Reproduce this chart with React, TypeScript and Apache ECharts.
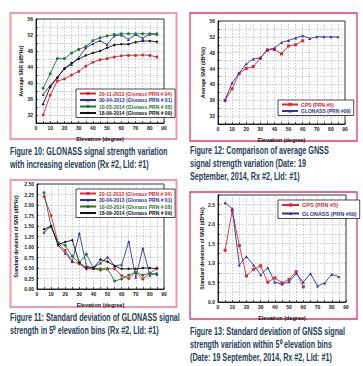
import React, { useEffect, useRef } from 'react';
import * as echarts from 'echarts';

// ---------- data ----------
const elevation = [5, 10, 15, 20, 25, 30, 35, 40, 45, 50, 55, 60, 65, 70, 75, 80, 85];

// Figure 10: average SNR per GLONASS pass
const fig10Names = [
  '20-11-2013 (Glonass PRN # 04)',
  '30-04-2013 (Glonass PRN # 01)',
  '10-03-2014 (Glonass PRN # 08)',
  '18-09-2014 (Glonass PRN # 09)',
];
const fig10Prn04 = [32.0, 37.0, 40.5, 41.0, 42.0, 42.9, 44.2, 45.2, 45.8, 46.1, 46.5, 46.8, 46.9, 46.9, 47.0, 46.9, 46.5];
const fig10Prn01 = [37.1, 39.4, 41.3, 43.7, 44.6, 46.3, 48.8, 49.8, 50.6, 49.6, 51.8, 52.0, 50.9, 52.1, 51.2, 52.2, 52.2];
const fig10Prn08 = [38.7, 42.3, 46.1, 46.1, 47.5, 48.4, 49.1, 50.6, 51.3, 51.8, 52.1, 52.3, 52.3, 52.3, 52.3, 52.3, 52.3];
const fig10Prn09 = [34.7, 39.0, 41.4, 43.6, 45.0, 46.0, 46.9, 47.5, 48.0, 48.8, 49.5, 49.7, 49.7, 50.2, 50.5, 50.5, 50.3];

// Figure 12: GPS vs GLONASS average SNR
const fig12Names = ['GPS (PRN #5)', 'GLONASS (PRN #09)'];
const fig12Gps = [36.0, 38.9, 42.8, 44.0, 44.5, 46.6, 48.7, 48.8, 47.7, 49.7, 50.0, 51.0];
const fig12Glonass = [36.0, 40.4, 42.8, 45.2, 46.4, 46.7, 48.7, 49.2, 50.6, 51.1, 51.7, 52.3, 51.6, 52.0, 52.0, 52.0, 52.0];

// Figure 11: standard deviation per GLONASS pass
const fig11Prn04 = [2.20, 1.75, 1.09, 0.92, 0.65, 0.60, 0.48, 0.48, 0.45, 0.48, 0.48, 0.32, 0.25, 0.40, 0.24, 0.37, 0.50];
const fig11Prn01 = [1.35, 1.50, 1.05, 0.85, 0.66, 1.33, 0.55, 0.50, 0.62, 0.76, 0.55, 0.58, 1.13, 0.28, 0.97, 0.33, 0.38];
const fig11Prn08 = [2.29, 1.48, 1.10, 1.04, 0.78, 0.62, 0.83, 0.50, 0.48, 0.48, 0.19, 0.24, 0.33, 0.40, 0.33, 0.38, 0.34];
const fig11Prn09 = [1.42, 1.50, 1.06, 1.12, 1.16, 0.63, 0.50, 0.50, 0.70, 0.65, 0.55, 0.48, 0.48, 0.48, 0.50, 0.50, 0.48];

// Figure 13: GPS vs GLONASS standard deviation
const fig13Gps = [1.33, 2.35, 1.45, 0.67, 0.84, 0.93, 0.51, 0.62, 0.49, 0.58, 0.78, 0.39];
const fig13Glonass = [2.55, 2.40, 0.95, 1.17, 0.95, 0.70, 0.88, 0.51, 0.46, 0.52, 0.73, 0.51, 0.73, 0.41, 0.49, 0.71, 0.65];

const captions = [
  { lines: ['Figure 10: GLONASS signal strength variation', 'with increasing elevation (Rx #2, LId: #1)'], x: 10, y: 152 },
  { lines: ['Figure 12: Comparison of average GNSS', 'signal strength variation (Date: 19', 'September, 2014, Rx #2, LId: #1)'], x: 190, y: 151 },
  { lines: ['Figure 11: Standard deviation of GLONASS signal', 'strength in 5\u2070 elevation bins (Rx #2, LId: #1)'], x: 10, y: 318 },
  { lines: ['Figure 13: Standard deviation of GNSS signal', 'strength variation within 5\u2070 elevation bins', '(Date: 19 September, 2014, Rx #2, LId: #1)'], x: 190, y: 332 },
];

// ---------- styles ----------
const RED = '#e3262e';
const BLUE = '#2d33a6';
const GREEN = '#1e7a2c';
const BLACK = '#111111';
const FONT = '"Liberation Sans", Arial, sans-serif';
const CAPTION = '#22405e';
const PINK = '#f19aae';
const CRIMSON = '#e53a64';

const pairs = (ys: number[]) => ys.map((y, i) => [elevation[i], y]);

const grids = [
  { left: 36, top: 19, width: 128, height: 104 },
  { left: 218, top: 21, width: 127, height: 103 },
  { left: 37, top: 184, width: 127, height: 105 },
  { left: 218, top: 195, width: 128, height: 107 },
];

function xAxisFor(gridIndex: number) {
  return {
    type: 'value',
    gridIndex,
    min: 0,
    max: 90,
    interval: 5,
    name: 'Elevation (degree)',
    nameLocation: 'middle',
    nameGap: 12.5,
    nameTextStyle: { fontSize: 5.5, fontWeight: 'bold', fontFamily: FONT, color: '#111' },
    axisLine: { show: true, lineStyle: { color: '#000', width: 0.8 } },
    axisTick: { show: true, inside: true, length: 2, lineStyle: { color: '#000', width: 0.6 } },
    axisLabel: {
      fontSize: 5,
      fontWeight: 'bold',
      fontFamily: FONT,
      color: '#222',
      margin: 2,
      formatter: (v: number) => (v % 10 === 0 ? String(v) : ''),
    },
    splitLine: { show: true, lineStyle: { color: '#8c93b0', width: 0.5, type: [1.5, 1.5] } },
  };
}

function yAxisFor(gridIndex: number, opts: any) {
  return {
    type: 'value',
    gridIndex,
    nameLocation: 'middle',
    nameRotate: 90,
    nameTextStyle: { fontSize: 5, fontWeight: 'bold', fontFamily: FONT, color: '#111' },
    axisLine: { show: true, lineStyle: { color: '#000', width: 0.8 } },
    axisTick: { show: true, inside: true, length: 2, lineStyle: { color: '#000', width: 0.6 } },
    splitLine: { show: true, lineStyle: { color: '#8c93b0', width: 0.5, type: [1.5, 1.5] } },
    ...opts,
    axisLabel: {
      fontSize: 5,
      fontWeight: 'bold',
      fontFamily: FONT,
      color: '#222',
      margin: 3,
      ...(opts.axisLabel || {}),
    },
  };
}

function line(name: string, ys: number[], idx: number, color: string, symbol: string) {
  return {
    type: 'line',
    name,
    xAxisIndex: idx,
    yAxisIndex: idx,
    data: pairs(ys),
    symbol,
    symbolSize: 3,
    showSymbol: true,
    lineStyle: { color, width: 0.9 },
    itemStyle: { color },
  };
}

function legendFor(names: string[], colors: string[], left: number, top: number, fontSize = 5, itemWidth = 16, itemGap = 1.5) {
  return {
    orient: 'vertical',
    left,
    top,
    itemWidth,
    itemHeight: 4,
    itemGap,
    padding: [2, 3, 2, 3],
    borderColor: '#000',
    borderWidth: 0.7,
    backgroundColor: '#fff',
    borderRadius: 0,
    selectedMode: false,
    textStyle: { fontSize, fontWeight: 'bold', fontFamily: FONT, padding: [0, 0, 0, -2] },
    data: names.map((n, i) => ({ name: n, textStyle: { color: colors[i] } })),
  };
}

export default function App() {
  const ref = useRef<HTMLDivElement>(null);

  useEffect(() => {
    if (!ref.current) return;
    const chart = echarts.init(ref.current, null, { renderer: 'svg' });

    const graphic: any[] = [
      { type: 'rect', shape: { x: 10.5, y: 13, width: 166, height: 126 }, style: { fill: 'none', stroke: PINK, lineWidth: 2 } },
      { type: 'rect', shape: { x: 190, y: 13, width: 167, height: 128 }, style: { fill: 'none', stroke: CRIMSON, lineWidth: 1.3 } },
      { type: 'rect', shape: { x: 10.5, y: 180, width: 166, height: 127 }, style: { fill: 'none', stroke: PINK, lineWidth: 2 } },
      { type: 'rect', shape: { x: 190, y: 192, width: 167, height: 127 }, style: { fill: 'none', stroke: CRIMSON, lineWidth: 1.3 } },
    ];
    captions.forEach((c) => {
      c.lines.forEach((t, i) => {
        graphic.push({
          type: 'text',
          x: c.x,
          y: c.y + i * 13,
          scaleX: 0.72,
          style: {
            text: t,
            fill: CAPTION,
            font: `bold 10px ${FONT}`,
            align: 'left',
            verticalAlign: 'middle',
          },
        });
      });
    });

    const fig10Colors = [RED, BLUE, GREEN, BLACK];

    chart.setOption({
      animation: false,
      backgroundColor: '#fff',
      grid: grids.map((g) => ({ ...g, show: true, borderColor: '#000', borderWidth: 0.8, backgroundColor: 'transparent' })),
      xAxis: [0, 1, 2, 3].map((i) => xAxisFor(i)),
      yAxis: [
        yAxisFor(0, {
          min: 30, max: 56, interval: 2, name: 'Average SNR (dB*Hz)', nameGap: 13,
          axisLabel: { formatter: (v: number) => (v % 4 === 0 ? String(v) : '') },
        }),
        yAxisFor(1, {
          min: 30, max: 56, interval: 2, name: 'Average SNR (dB*Hz)', nameGap: 13,
          axisLabel: { formatter: (v: number) => (v % 4 === 0 ? String(v) : '') },
        }),
        yAxisFor(2, {
          min: 0, max: 2.5, interval: 0.25, name: 'Standard deviation of SNR (dB*Hz)', nameGap: 19,
          axisLabel: { formatter: (v: number) => v.toFixed(2) },
        }),
        yAxisFor(3, {
          min: 0, max: 2.75, interval: 0.25, name: 'Standard deviation of SNR (dB*Hz)', nameGap: 13.5,
          axisLabel: { formatter: (v: number) => (Math.round(v * 100) % 50 === 0 ? v.toFixed(1) : '') },
        }),
      ],
      legend: [
        legendFor(fig10Names, fig10Colors, 76, 89),
        legendFor(fig12Names, [RED, BLUE], 278, 100),
        legendFor(fig10Names, fig10Colors, 76, 189),
        legendFor(fig12Names, [RED, BLUE], 278, 200, 5.5, 17, 2.5),
      ],
      series: [
        line(fig10Names[0], fig10Prn04, 0, RED, 'circle'),
        line(fig10Names[1], fig10Prn01, 0, BLUE, 'triangle'),
        line(fig10Names[2], fig10Prn08, 0, GREEN, 'circle'),
        line(fig10Names[3], fig10Prn09, 0, BLACK, 'diamond'),
        line(fig12Names[0], fig12Gps, 1, RED, 'rect'),
        line(fig12Names[1], fig12Glonass, 1, BLUE, 'triangle'),
        line(fig10Names[0], fig11Prn04, 2, RED, 'circle'),
        line(fig10Names[1], fig11Prn01, 2, BLUE, 'triangle'),
        line(fig10Names[2], fig11Prn08, 2, GREEN, 'circle'),
        line(fig10Names[3], fig11Prn09, 2, BLACK, 'diamond'),
        line(fig12Names[0], fig13Gps, 3, RED, 'rect'),
        line(fig12Names[1], fig13Glonass, 3, BLUE, 'triangle'),
      ],
      graphic,
    });

    return () => chart.dispose();
  }, []);

  return (
    <div
      ref={ref}
      style={{ position: 'absolute', left: 0, top: 0, width: 363, height: 366, background: '#fff' }}
    />
  );
}
